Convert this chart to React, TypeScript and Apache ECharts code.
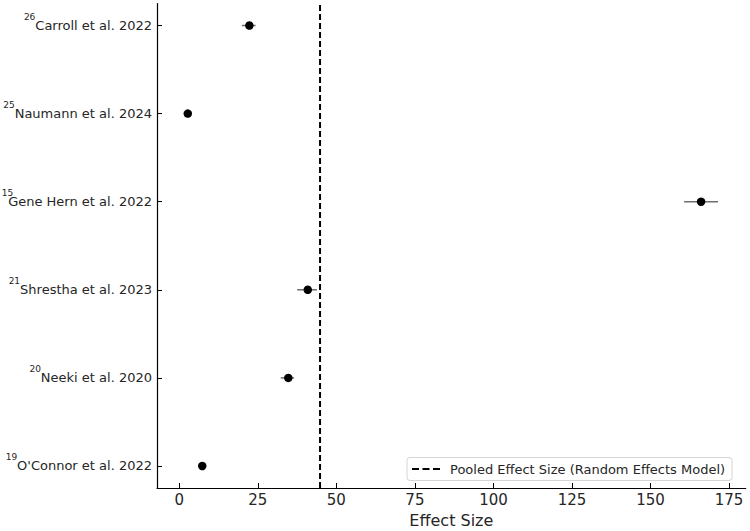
import React, { useEffect, useRef } from "react";
import * as echarts from "echarts";

// Rows from bottom (index 0) to top (index 5)
const studies = [
  "O'Connor et al. 2022",
  "Neeki et al. 2020",
  "Shrestha et al. 2023",
  "Gene Hern et al. 2022",
  "Naumann et al. 2024",
  "Carroll et al. 2022",
];
const refs = ["19", "20", "21", "15", "25", "26"];
const effects = [7.3, 34.7, 40.9, 166.1, 2.7, 22.3];
const lowers = [6.6, 32.3, 37.5, 160.7, 2.2, 19.9];
const uppers = [8.0, 36.5, 43.8, 171.5, 3.2, 24.3];
const pooledEffect = 44.8;
const xTicks = [0, 25, 50, 75, 100, 125, 150, 175];
const yTicks = [0, 1, 2, 3, 4, 5];
const pooledName = "Pooled Effect Size (Random Effects Model)";

const FONT = "DejaVu Sans";
const DASH_ICON = "path://M0 0H7V2H0Z M10.5 0H17.5V2H10.5Z M21 0H28V2H21Z";

export default function App() {
  const ref = useRef<HTMLDivElement>(null);
  useEffect(() => {
    document.body.style.margin = "0";
    if (!ref.current) return;
    const chart = echarts.init(ref.current, null, { renderer: "svg" });
    const yMin = -0.25;
    const yMax = 5.25;
    const supBase = { fontFamily: FONT, fontSize: 9, color: "#262626", padding: [0, 0, 18, 0] };
    const option: any = {
      animation: false,
      backgroundColor: "#ffffff",
      textStyle: { fontFamily: FONT },
      grid: {
        left: 157,
        right: 4.3,
        top: 3.5,
        bottom: 43,
        containLabel: false,
        outerBoundsMode: "none",
      },
      legend: {
        data: [{ name: pooledName, icon: DASH_ICON }],
        left: 407,
        top: 457.5,
        orient: "horizontal",
        padding: [4, 7, 4, 5],
        itemWidth: 28,
        itemHeight: 2,
        backgroundColor: "rgba(255,255,255,0.8)",
        borderColor: "#d4d4d4",
        borderWidth: 1,
        borderRadius: 3,
        itemStyle: { color: "#000" },
        textStyle: { fontFamily: FONT, fontSize: 13, color: "#262626", padding: [0, 0, 0, 5], lineHeight: 15 },
      },
      xAxis: {
        type: "value",
        min: -7.1,
        max: 180.3,
        name: "Effect Size",
        nameLocation: "middle",
        nameGap: 24,
        nameTextStyle: { fontFamily: FONT, fontSize: 16, color: "#262626" },
        splitLine: { show: false },
        axisLine: { show: true, onZero: false, lineStyle: { color: "#000", width: 1.2 } },
        axisTick: {
          show: true,
          inside: true,
          length: 5,
          customValues: xTicks,
          lineStyle: { color: "#000", width: 1 },
        },
        axisLabel: {
          customValues: xTicks,
          fontFamily: FONT,
          fontSize: 15,
          color: "#262626",
          margin: 4,
        },
      },
      yAxis: {
        type: "value",
        min: yMin,
        max: yMax,
        splitLine: { show: false },
        axisLine: { show: true, onZero: false, lineStyle: { color: "#000", width: 1.2 } },
        axisTick: {
          show: true,
          inside: true,
          length: 5,
          customValues: yTicks,
          lineStyle: { color: "#000", width: 1 },
        },
        axisLabel: {
          customValues: yTicks,
          margin: 5,
          formatter: (v: number) => {
            const i = Math.round(v);
            const supStyle = studies[i].length > 20 ? "supNarrow" : "sup";
            return `{${supStyle}|${refs[i]}}{name|${studies[i]}}`;
          },
          rich: {
            sup: supBase,
            supNarrow: { ...supBase, padding: [0, -5, 18, 0] },
            name: { fontFamily: FONT, fontSize: 13, color: "#262626" },
          },
        },
      },
      series: [
        {
          type: "custom",
          name: "ci",
          z: 2,
          renderItem: (params: any, api: any) => {
            const lo = api.coord([api.value(0), api.value(2)]);
            const hi = api.coord([api.value(1), api.value(2)]);
            return {
              type: "line",
              shape: { x1: lo[0], y1: lo[1], x2: hi[0], y2: hi[1] },
              style: { stroke: "#6e6e6e", lineWidth: 1.5 },
            };
          },
          encode: { x: [0, 1], y: 2 },
          data: studies.map((_, i) => [lowers[i], uppers[i], i]),
        },
        {
          type: "scatter",
          name: "effect",
          z: 3,
          symbol: "circle",
          symbolSize: 8.5,
          itemStyle: { color: "#000", opacity: 1 },
          data: studies.map((_, i) => [effects[i], i]),
        },
        {
          type: "line",
          name: pooledName,
          z: 4,
          symbol: "none",
          color: "#000",
          lineStyle: { color: "#000", width: 2, type: [6, 3] },
          data: [
            [pooledEffect, yMin],
            [pooledEffect, yMax],
          ],
        },
      ],
    };
    chart.setOption(option);
    return () => chart.dispose();
  }, []);
  return <div ref={ref} style={{ width: 750, height: 531 }} />;
}
